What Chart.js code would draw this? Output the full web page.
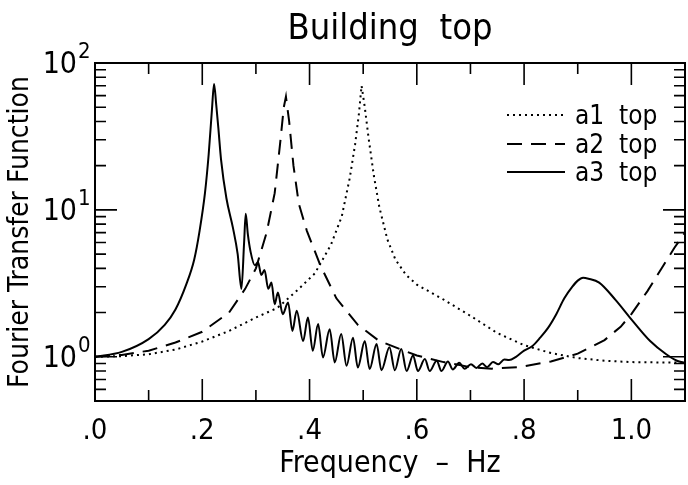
<!DOCTYPE html>
<html>
<head>
<meta charset="utf-8">
<script src="https://cdn.jsdelivr.net/npm/chart.js@4.4.1/dist/chart.umd.min.js"></script>
<style>
  html, body { margin: 0; padding: 0; background: #fff; }
</style>
</head>
<body>
<canvas id="chart" width="688" height="485"></canvas>
<script>
// values (frequency in Hz, transfer function on log scale)
const a1Freq = [0, 0.05, 0.1, 0.15, 0.2, 0.25, 0.3, 0.34, 0.38, 0.41, 0.44, 0.46, 0.475, 0.485, 0.492, 0.497,
  0.503, 0.51, 0.52, 0.53, 0.545, 0.56, 0.58, 0.6, 0.65, 0.7, 0.75, 0.8, 0.85, 0.9, 0.95, 1.0, 1.05, 1.1];
const a1Values = [1.0, 1.01, 1.04, 1.12, 1.27, 1.5, 1.85, 2.15, 2.9, 3.7, 5.8, 9, 16.5, 28, 45, 70,
  50, 31, 17, 10.5, 6.3, 4.6, 3.6, 3.1, 2.45, 1.9, 1.45, 1.2, 1.06, 0.98, 0.94, 0.92, 0.915, 0.915];

const a2Freq = [0, 0.05, 0.1, 0.15, 0.2, 0.25, 0.28, 0.3, 0.32, 0.335, 0.345, 0.352, 0.356, 0.362, 0.37, 0.38,
  0.395, 0.42, 0.45, 0.49, 0.53, 0.6, 0.65, 0.7, 0.74, 0.79, 0.85, 0.9, 0.95, 0.98, 1.0, 1.03, 1.06, 1.08, 1.1];
const a2Values = [1.0, 1.03, 1.1, 1.25, 1.48, 2.0, 2.9, 4.0, 7, 13, 28, 50, 59, 40, 20, 11,
  7.2, 4.2, 2.5, 1.65, 1.28, 1.02, 0.92, 0.85, 0.83, 0.85, 0.93, 1.05, 1.3, 1.6, 1.95, 2.8, 4.2, 5.5, 7];

const a3Freq = [0, 0.05, 0.1, 0.13, 0.15, 0.17, 0.185, 0.195, 0.205, 0.212, 0.218, 0.222, 0.226, 0.23, 0.235,
  0.245, 0.257, 0.266, 0.273, 0.278, 0.281, 0.285, 0.29, 0.298, 0.304, 0.31, 0.316, 0.323, 0.329, 0.335,
  0.341, 0.35, 0.36, 0.368, 0.376, 0.388, 0.397, 0.406, 0.416, 0.425, 0.4375, 0.447, 0.459, 0.469, 0.481,
  0.49, 0.503, 0.512, 0.525, 0.534, 0.549, 0.559, 0.571, 0.581, 0.593, 0.602, 0.615, 0.624, 0.637, 0.646,
  0.658, 0.667, 0.679, 0.689, 0.701, 0.711, 0.722, 0.731, 0.742, 0.752, 0.763, 0.772, 0.785, 0.8, 0.815,
  0.83, 0.845, 0.86, 0.875, 0.89, 0.9, 0.91, 0.92, 0.94, 0.97, 1.0, 1.035, 1.065, 1.085, 1.1];
const a3Values = [1.0, 1.08, 1.32, 1.65, 2.1, 3.1, 4.6, 7.2, 13, 24, 48, 72, 52, 36, 22,
  12, 7.6, 5.0, 2.9, 6, 9.4, 6.8, 5.2, 4.2, 4.4, 3.6, 3.9, 2.9, 3.2, 2.28,
  2.74, 1.95, 2.34, 1.5, 2.06, 1.28, 1.85, 1.1, 1.67, 0.99, 1.54, 0.915, 1.43, 0.87, 1.35,
  0.846, 1.28, 0.825, 1.22, 0.81, 1.16, 0.81, 1.13, 0.80, 1.02, 0.80, 0.965, 0.80, 0.94, 0.80,
  0.93, 0.82, 0.91, 0.83, 0.89, 0.84, 0.9, 0.85, 0.92, 0.89, 0.96, 0.95, 1.0, 1.1, 1.18,
  1.35, 1.58, 1.95, 2.5, 3.0, 3.3, 3.45, 3.4, 3.2, 2.45, 1.8, 1.28, 1.04, 0.94, 0.91];

const seriesNames = ["a1  top", "a2  top", "a3  top"];
const xTickLabels = [".0", ".2", ".4", ".6", ".8", "1.0"];
const xMinorTicks = [0.1, 0.3, 0.5, 0.7, 0.9];
const yDecades = [1, 10, 100];
const yExponents = ["0", "1", "2"];
const yMinorTicks = [0.5, 0.6, 0.7, 0.8, 0.9, 2, 3, 4, 5, 6, 7, 8, 9, 20, 30, 40, 50, 60, 70, 80, 90];

const FONT = '"Liberation Sans Narrow", "DejaVu Sans Condensed", "Liberation Sans", sans-serif';

function toPoints(xs, ys) {
  return xs.map((x, i) => ({ x: x, y: ys[i] }));
}

// frame, inward ticks, decade labels and legend
const frameTicks = {
  id: "frameTicks",
  afterDatasetsDraw(chart) {
    const { ctx, chartArea: a, scales: { x, y } } = chart;
    ctx.save();
    ctx.strokeStyle = "#000";
    ctx.lineWidth = 2;
    ctx.strokeRect(a.left, a.top, a.right - a.left, a.bottom - a.top);

    ctx.lineWidth = 1.6;
    ctx.beginPath();
    const major = 22, minor = 11;
    xTickLabels.forEach((_, i) => {
      const px = x.getPixelForValue(i * 0.2);
      ctx.moveTo(px, a.bottom); ctx.lineTo(px, a.bottom - major);
      ctx.moveTo(px, a.top); ctx.lineTo(px, a.top + major);
    });
    xMinorTicks.forEach(v => {
      const px = x.getPixelForValue(v);
      ctx.moveTo(px, a.bottom); ctx.lineTo(px, a.bottom - minor);
      ctx.moveTo(px, a.top); ctx.lineTo(px, a.top + minor);
    });
    yDecades.forEach(v => {
      const py = y.getPixelForValue(v);
      ctx.moveTo(a.left, py); ctx.lineTo(a.left + major, py);
      ctx.moveTo(a.right, py); ctx.lineTo(a.right - major, py);
    });
    yMinorTicks.forEach(v => {
      const py = y.getPixelForValue(v);
      ctx.moveTo(a.left, py); ctx.lineTo(a.left + minor, py);
      ctx.moveTo(a.right, py); ctx.lineTo(a.right - minor, py);
    });
    ctx.stroke();

    // y labels 10^n
    ctx.fillStyle = "#000";
    yDecades.forEach((v, i) => {
      const py = y.getPixelForValue(v);
      ctx.font = "30px " + FONT;
      ctx.textAlign = "right";
      ctx.textBaseline = "alphabetic";
      ctx.fillText("10", 77, py + 10);
      ctx.font = "22px " + FONT;
      ctx.textAlign = "left";
      ctx.fillText(yExponents[i], 78, py - 5);
    });

    // legend
    const rows = [117, 146, 174];
    ctx.font = "26px " + FONT;
    ctx.textAlign = "left";
    ctx.textBaseline = "middle";
    chart.data.datasets.forEach((ds, i) => {
      ctx.save();
      ctx.lineWidth = ds.borderWidth;
      ctx.setLineDash(ds.borderDash || []);
      ctx.beginPath();
      ctx.moveTo(507, rows[i] - 2);
      ctx.lineTo(565, rows[i] - 2);
      ctx.stroke();
      ctx.restore();
      ctx.fillText(ds.label, 575, rows[i]);
    });
    ctx.restore();
  }
};

const ctx = document.getElementById("chart").getContext("2d");

new Chart(ctx, {
  type: "line",
  data: {
    datasets: [
      {
        label: seriesNames[0],
        data: toPoints(a1Freq, a1Values),
        borderColor: "#000",
        borderWidth: 2,
        borderDash: [2, 4],
        pointRadius: 0,
        tension: 0
      },
      {
        label: seriesNames[1],
        data: toPoints(a2Freq, a2Values),
        borderColor: "#000",
        borderWidth: 2,
        borderDash: [15, 9],
        pointRadius: 0,
        tension: 0
      },
      {
        label: seriesNames[2],
        data: toPoints(a3Freq, a3Values),
        borderColor: "#000",
        borderWidth: 2,
        pointRadius: 0,
        cubicInterpolationMode: "monotone"
      }
    ]
  },
  options: {
    responsive: false,
    animation: false,
    devicePixelRatio: 1,
    layout: { padding: { left: 0, right: 3, top: 0, bottom: 0 } },
    plugins: {
      legend: { display: false },
      tooltip: { enabled: false },
      title: {
        display: true,
        text: "Building  top",
        fullSize: false,
        color: "#000",
        font: { family: FONT, size: 36, weight: "normal", lineHeight: 1.2 },
        padding: { top: 8, bottom: 11.8 }
      }
    },
    scales: {
      x: {
        type: "linear",
        min: 0,
        max: 1.1,
        grid: { display: false, drawTicks: false },
        border: { display: false },
        afterFit(scale) { scale.height = 84; },
        ticks: {
          stepSize: 0.2,
          includeBounds: false,
          autoSkip: false,
          maxRotation: 0,
          padding: 13,
          color: "#000",
          font: { family: FONT, size: 29 },
          callback: v => {
            const i = Math.round(v / 0.2);
            return Math.abs(v - i * 0.2) < 1e-6 ? (xTickLabels[i] || "") : "";
          }
        },
        title: {
          display: true,
          text: "Frequency  –  Hz",
          color: "#000",
          font: { family: FONT, size: 30, lineHeight: 1.2 },
          padding: { top: 0, bottom: 3 }
        }
      },
      y: {
        type: "logarithmic",
        min: 0.5,
        max: 100,
        grid: { display: false, drawTicks: false },
        border: { display: false },
        afterFit(scale) { scale.width = 95; },
        ticks: { display: false },
        title: {
          display: true,
          text: "Fourier Transfer Function",
          color: "#000",
          font: { family: FONT, size: 28, lineHeight: 1.2 },
          padding: { top: 4, bottom: 0 }
        }
      }
    }
  },
  plugins: [frameTicks]
});
</script>
</body>
</html>
